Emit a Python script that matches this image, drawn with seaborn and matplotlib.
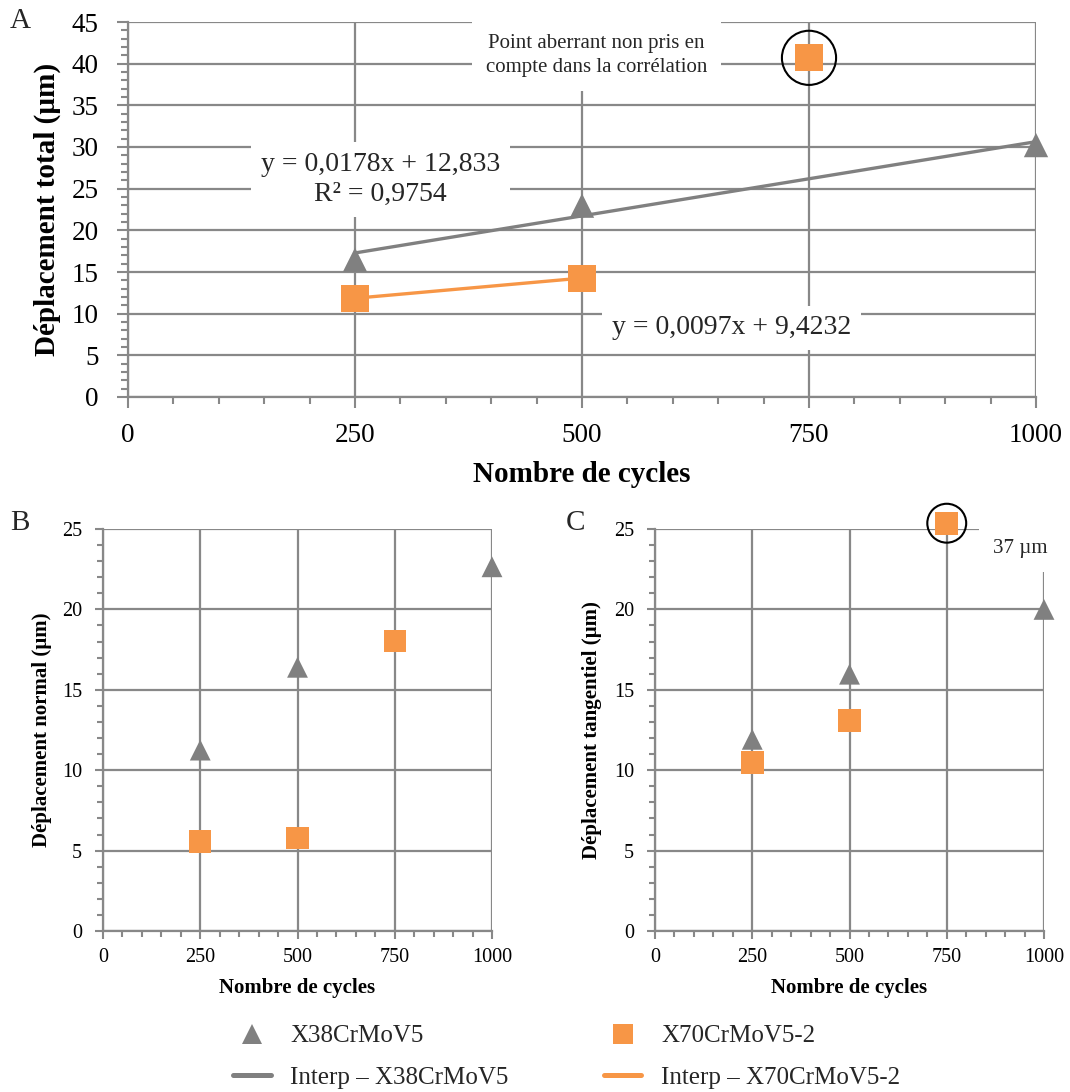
import numpy as np
import pandas as pd
import matplotlib
matplotlib.use("Agg")
import matplotlib.pyplot as plt
import seaborn as sns
from matplotlib.ticker import MultipleLocator
from matplotlib.lines import Line2D

# ---------------- data ----------------
cycles_x38 = [250, 500, 1000]
cycles_x70 = [250, 500, 750]

total_x38 = [16.47, 22.96, 30.23]
total_x70 = [11.85, 14.27, 40.7]          # 750 cycles = outlier
normal_x38 = [11.25, 16.4, 22.65]
normal_x70 = [5.57, 5.78, 18.04]
tang_x38 = [11.92, 15.97, 20.0]
tang_x70 = [10.49, 13.08, 25.36]           # 750 cycles drawn at the top edge (real value 37 µm)

fit_mask_x70 = [True, True, False]         # outlier excluded from the correlation

eq_x38 = "y = 0,0178x + 12,833\nR² = 0,9754"
eq_x70 = "y = 0,0097x + 9,4232"
outlier_note = "Point aberrant non pris en\ncompte dans la corrélation"
outlier_c_label = "37 µm"

series_labels = ["X38CrMoV5", "Interp – X38CrMoV5", "X70CrMoV5-2", "Interp – X70CrMoV5-2"]
xticks = [0, 250, 500, 750, 1000]

# ---------------- style ----------------
sns.set_theme(style="white")
plt.rcParams["font.family"] = ["Liberation Serif", "DejaVu Serif"]

GRAY = "#808080"
ORANGE = "#F79646"
GRID = "#888888"

W, H = 1070, 1092
fig = plt.figure(figsize=(W / 100, H / 100), dpi=100)
fig.patch.set_facecolor("white")

axA = fig.add_axes([128 / W, 1 - 397 / H, 908 / W, 375 / H])
axB = fig.add_axes([103 / W, 1 - 931 / H, 389 / W, 402 / H])
axC = fig.add_axes([655 / W, 1 - 931 / H, 389 / W, 402 / H])


def style_axes(ax, ymax, tick_fs, maj_len, min_len, xpad, ypad):
    ax.set_xlim(0, 1000)
    ax.set_ylim(0, ymax)
    ax.set_xticks(xticks)
    ax.xaxis.set_minor_locator(MultipleLocator(50))
    ax.yaxis.set_major_locator(MultipleLocator(5))
    ax.yaxis.set_minor_locator(MultipleLocator(1))
    ax.set_axisbelow(True)
    ax.grid(True, which="major", color=GRID, lw=1.6)
    ax.grid(False, which="minor")
    for s in ["top", "right"]:
        ax.spines[s].set_visible(False)
    for s in ["left", "bottom"]:
        ax.spines[s].set_color(GRID)
        ax.spines[s].set_linewidth(1.6)
    ax.tick_params(which="both", direction="out", color=GRID, width=1.5,
                   left=True, bottom=True)
    ax.tick_params(which="major", length=maj_len, labelsize=tick_fs)
    ax.tick_params(which="minor", length=min_len)
    ax.tick_params(axis="x", which="major", pad=xpad)
    ax.tick_params(axis="y", which="major", pad=ypad)
    ax.set_facecolor("white")
    for lab in ax.get_xticklabels() + ax.get_yticklabels():
        lab.set_color("black")


style_axes(axA, 45, 19.5, 8, 5, 11, 13)
style_axes(axB, 25, 14.5, 6, 4, 6, 9)
style_axes(axC, 25, 14.5, 6, 4, 6, 9)

# ---------------- panel A ----------------
dfA38 = pd.DataFrame({"x": cycles_x38, "y": total_x38})
dfA70 = pd.DataFrame({"x": cycles_x70, "y": total_x70, "fit": fit_mask_x70})

sns.regplot(data=dfA38, x="x", y="y", ax=axA, ci=None, scatter=False, truncate=True,
            color=GRAY, line_kws=dict(lw=2.4, zorder=3))
sns.regplot(data=dfA70[dfA70["fit"]], x="x", y="y", ax=axA, ci=None, scatter=False,
            truncate=True, color=ORANGE, line_kws=dict(lw=2.4, zorder=3))
sns.scatterplot(data=dfA38, x="x", y="y", ax=axA, marker="^", s=17.5 ** 2, color=GRAY,
                edgecolor="none", zorder=4, clip_on=False, legend=False)
sns.scatterplot(data=dfA70, x="x", y="y", ax=axA, marker="s", s=19.5 ** 2, color=ORANGE,
                edgecolor="none", zorder=4, clip_on=False, legend=False)
out_A = dfA70[~dfA70["fit"]]
axA.scatter(out_A["x"], out_A["y"], s=39 ** 2, facecolors="none", edgecolors="black",
            linewidths=1.5, zorder=5, clip_on=False)

axA.text(278, 26.1, eq_x38, ha="center", va="center", fontsize=20, linespacing=1.25,
         bbox=dict(facecolor="white", edgecolor="none", pad=7), zorder=3.5)
axA.text(665, 8.3, eq_x70, ha="center", va="center", fontsize=20,
         bbox=dict(facecolor="white", edgecolor="none", pad=7), zorder=3.5)
axA.text(516, 41.0, outlier_note, ha="center", va="center", fontsize=15, linespacing=1.35,
         bbox=dict(facecolor="white", edgecolor="none", pad=10), zorder=3.5)

axA.set_xlabel("Nombre de cycles", fontsize=21, fontweight="bold", labelpad=9, color="black")
axA.set_ylabel("Déplacement total (µm)", fontsize=21, fontweight="bold", labelpad=8, color="black")

# ---------------- panel B ----------------
dfB38 = pd.DataFrame({"x": cycles_x38, "y": normal_x38})
dfB70 = pd.DataFrame({"x": cycles_x70, "y": normal_x70})
sns.scatterplot(data=dfB38, x="x", y="y", ax=axB, marker="^", s=15 ** 2, color=GRAY,
                edgecolor="none", zorder=4, clip_on=False, legend=False)
sns.scatterplot(data=dfB70, x="x", y="y", ax=axB, marker="s", s=16 ** 2, color=ORANGE,
                edgecolor="none", zorder=4, clip_on=False, legend=False)
axB.set_xlabel("Nombre de cycles", fontsize=15, fontweight="bold", labelpad=8, color="black")
axB.set_ylabel("Déplacement normal (µm)", fontsize=15, fontweight="bold", labelpad=7, color="black")

# ---------------- panel C ----------------
dfC38 = pd.DataFrame({"x": cycles_x38, "y": tang_x38})
dfC70 = pd.DataFrame({"x": cycles_x70, "y": tang_x70, "fit": fit_mask_x70})
sns.scatterplot(data=dfC38, x="x", y="y", ax=axC, marker="^", s=15 ** 2, color=GRAY,
                edgecolor="none", zorder=4, clip_on=False, legend=False)
sns.scatterplot(data=dfC70, x="x", y="y", ax=axC, marker="s", s=16.5 ** 2, color=ORANGE,
                edgecolor="none", zorder=4, clip_on=False, legend=False)
out_C = dfC70[~dfC70["fit"]]
axC.scatter(out_C["x"], out_C["y"], s=28 ** 2, facecolors="none", edgecolors="black",
            linewidths=1.5, zorder=5, clip_on=False)
axC.text(940, 23.8, outlier_c_label, ha="center", va="center", fontsize=15,
         bbox=dict(facecolor="white", edgecolor="none", pad=10), zorder=3.5, clip_on=False)
axC.set_xlabel("Nombre de cycles", fontsize=15, fontweight="bold", labelpad=8, color="black")
axC.set_ylabel("Déplacement tangentiel (µm)", fontsize=15, fontweight="bold", labelpad=9, color="black")

# ---------------- panel letters ----------------
fig.text(10 / W, 1 - 21 / H, "A", fontsize=21, va="center", ha="left")
fig.text(10 / W, 1 - 523 / H, "B", fontsize=21, va="center", ha="left")
fig.text(566 / W, 1 - 523 / H, "C", fontsize=21, va="center", ha="left")

# ---------------- legend ----------------
handles = [
    Line2D([], [], marker="^", ls="none", color=GRAY, markersize=15, markeredgewidth=0),
    Line2D([], [], color=GRAY, lw=3.6),
    Line2D([], [], marker="s", ls="none", color=ORANGE, markersize=15, markeredgewidth=0),
    Line2D([], [], color=ORANGE, lw=3.6),
]
fig.legend(handles=handles, labels=[series_labels[0], series_labels[1], series_labels[2], series_labels[3]],
           ncol=2, loc="upper left", bbox_to_anchor=(233 / W, 1 - 1025 / H),
           frameon=False, fontsize=18, handlelength=1.5, handletextpad=0.8,
           columnspacing=3.8, labelspacing=0.75, borderpad=0, borderaxespad=0)

fig.savefig("out.png", dpi=100, facecolor="white")
